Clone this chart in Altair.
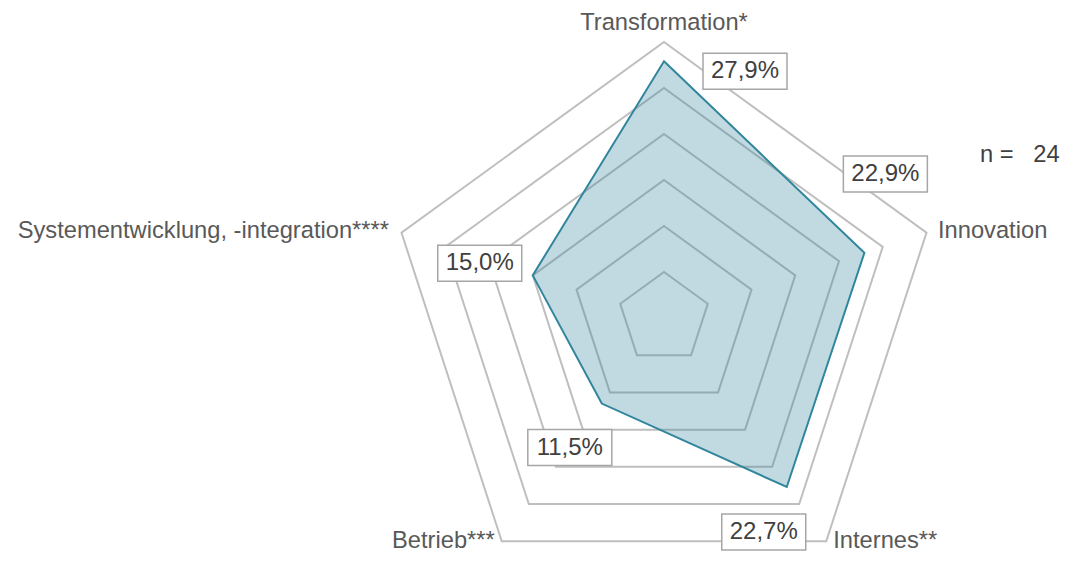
import math
import altair as alt
import pandas as pd

# ---- data ----
categories = ["Transformation*", "Innovation", "Internes**", "Betrieb***",
              "Systementwicklung, -integration****"]
values = [27.9, 22.9, 22.7, 11.5, 15.0]
value_labels = ["27,9%", "22,9%", "22,7%", "11,5%", "15,0%"]
grid_levels = [5, 10, 15, 20, 25, 30]
sample_text = "n =\u00a0\u00a0\u00a024"

# ---- layout / style (pixels) ----
K = 9.2                      # pixels per percentage point
W, H = 1055, 545             # plot area
CX, CY = 656, 310            # radar centre inside plot area
box_offsets = [(81, 10), (21, -79), (-23, 45), (-32, 44), (-53, -12)]
cat_offsets = [(0, -12.5), (11.5, 5), (7, 6.5), (-7, 6.5), (-12.5, 5)]
cat_align = ["center", "left", "left", "right", "right"]
BOX_W, BOX_H = 84, 36
FONT = "Liberation Sans"
LINE_COLOR = "#31859c"
GRID_COLOR = "#bfbfbf"

n = len(categories)
ang = [2 * math.pi * i / n for i in range(n)]
rmax = max(grid_levels)

def px(r, a):
    return r * math.sin(a), r * math.cos(a)

grid_df = pd.DataFrame([
    {"level": lv, "idx": i, "x": px(lv, ang[i])[0], "y": px(lv, ang[i])[1]}
    for lv in grid_levels for i in range(n)
])

rows = []
for i in range(n):
    x, y = px(values[i], ang[i])
    ox, oy = box_offsets[i]
    bx, by = x + ox / K, y - oy / K
    vx, vy = px(rmax, ang[i])
    cx_, cy_ = cat_offsets[i]
    rows.append({
        "idx": i, "cat": categories[i], "value": values[i], "label": value_labels[i],
        "x": x, "y": y, "bx": bx, "by": by,
        "bx1": bx - BOX_W / 2 / K, "bx2": bx + BOX_W / 2 / K,
        "by1": by - BOX_H / 2 / K, "by2": by + BOX_H / 2 / K,
        "lx": vx + cx_ / K, "ly": vy - cy_ / K, "align": cat_align[i],
    })
df = pd.DataFrame(rows)

xs = alt.Scale(domain=[-CX / K, (W - CX) / K], nice=False, zero=False)
ys = alt.Scale(domain=[-(H - CY) / K, CY / K], nice=False, zero=False)
X = lambda f: alt.X(f"{f}:Q", scale=xs, axis=None)
Y = lambda f: alt.Y(f"{f}:Q", scale=ys, axis=None)

grid = alt.Chart(grid_df).mark_line(
    interpolate="linear-closed", color=GRID_COLOR, strokeWidth=2
).encode(x=X("x"), y=Y("y"), detail="level:N", order="idx:Q")

poly = alt.Chart(df).mark_line(
    interpolate="linear-closed", color=LINE_COLOR, strokeWidth=2,
    fill=LINE_COLOR, fillOpacity=0.3
).encode(x=X("x"), y=Y("y"), order="idx:Q")

boxes = alt.Chart(df).mark_rect(
    fill="white", stroke="#a6a6a6", strokeWidth=1.5
).encode(x=X("bx1"), x2="bx2:Q", y=Y("by1"), y2="by2:Q")

vtext = alt.Chart(df).mark_text(
    font=FONT, fontSize=24, color="#404040", align="center", baseline="middle"
).encode(x=X("bx"), y=Y("by"), text="label:N")

cat_layers = []
for al in ["center", "left", "right"]:
    cat_layers.append(
        alt.Chart(df).transform_filter(alt.datum.align == al).mark_text(
            font=FONT, fontSize=23.7, color="#595959", align=al, baseline="alphabetic"
        ).encode(x=X("lx"), y=Y("ly"), text="cat:N")
    )

ntext = alt.Chart(pd.DataFrame({"t": [sample_text]})).mark_text(
    font=FONT, fontSize=23.7, color="#404040", align="left", baseline="alphabetic"
).encode(x=alt.value(972), y=alt.value(154), text="t:N")

chart = alt.layer(grid, poly, boxes, vtext, *cat_layers, ntext).properties(
    width=W, height=H, padding=0, autosize=alt.AutoSizeParams(type="none")
).configure_view(stroke=None)

chart.save("out.html", embed_options={"renderer": "svg", "actions": False})
